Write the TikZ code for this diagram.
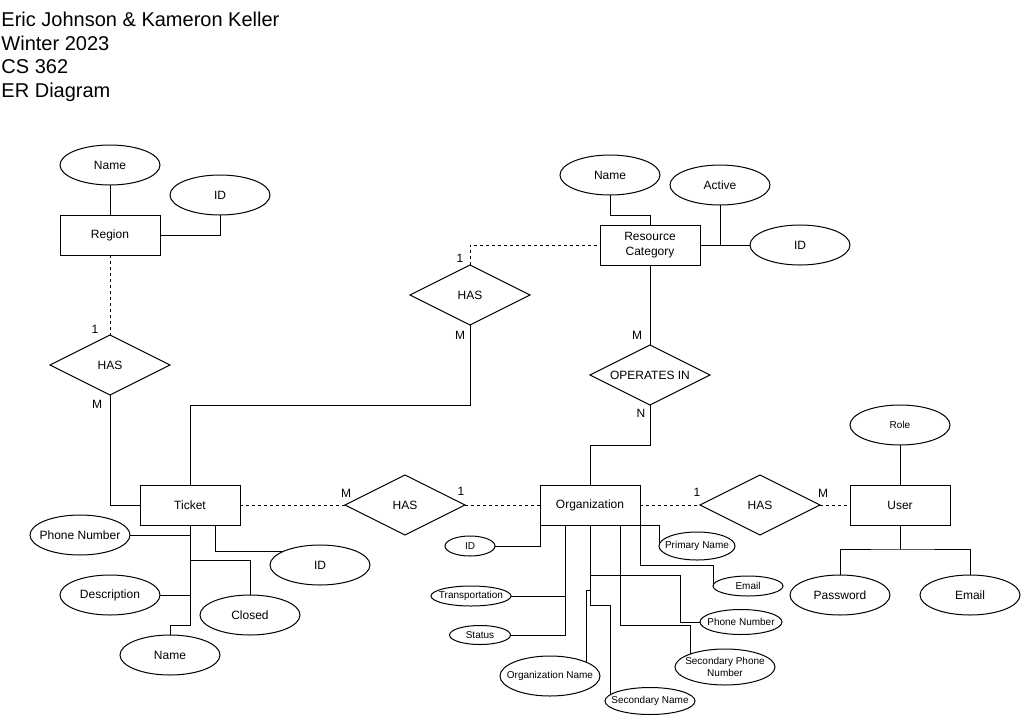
\documentclass[tikz,border=0pt]{standalone}
\usepackage{fontspec}
\setmainfont{Liberation Sans}
\usetikzlibrary{shapes.geometric,backgrounds}
\newcommand{\zb}[1]{\makebox[0pt][c]{#1}}
\begin{document}
\begin{tikzpicture}[x=1pt,y=-1pt,
  every node/.style={inner sep=0pt,outer sep=0pt},
  ent/.style={draw,rectangle,fill=white,line width=1pt,minimum width=100pt,minimum height=40pt,font=\fontsize{12}{14.5}\selectfont,align=center},
  attr/.style={draw,ellipse,fill=white,line width=1pt,minimum width=100pt,minimum height=40pt,font=\fontsize{12}{14}\selectfont,align=center},
  sattr/.style={attr,font=\fontsize{10}{11.5}\selectfont},
  rel/.style={draw,diamond,fill=white,line width=1pt,aspect=2,minimum width=120pt,minimum height=60pt,font=\fontsize{12}{14}\selectfont},
  card/.style={font=\fontsize{12}{14}\selectfont},
  ttl/.style={anchor=base west,font=\fontsize{20}{23.5}\selectfont},
  conn/.style={line width=1pt},
  dconn/.style={line width=1pt,dash pattern=on 3pt off 3pt}
]
\useasboundingbox (0,0) rectangle (1021,716);

% title
\node[ttl] (t1) at (1.5,26.7) {Eric Johnson \& Kameron Keller};
\node[ttl] (t2) at (1.5,50.2) {Winter 2023};
\node[ttl] (t3) at (1.5,73.7) {CS 362};
\node[ttl] (t4) at (1.5,97.2) {ER Diagram};

% entities
\node[ent] (region) at (110,235) {Region};
\node[ent] (rc) at (650,245) {Resource\\Category};
\node[ent] (ticket) at (190,505) {Ticket};
\node[ent] (org) at (590,505) {Organization};
\node[ent] (user) at (900,505) {User};

% relationships
\node[rel] (has1) at (110,365) {HAS};
\node[rel] (has2) at (470,295) {HAS};
\node[rel] (ops) at (650,375) {OPERATES IN};
\node[rel] (has3) at (405,505) {HAS};
\node[rel] (has4) at (760,505) {HAS};

% region attributes
\node[attr] (rname) at (110,165) {\zb{Name}};
\node[attr] (rid) at (220,195) {\zb{ID}};

% resource category attributes
\node[attr] (rcname) at (610,175) {\zb{Name}};
\node[attr] (active) at (720,185) {\zb{Active}};
\node[attr] (rcid) at (800,245) {\zb{ID}};

% user attributes
\node[sattr] (role) at (900,425) {\zb{Role}};
\node[attr] (pw) at (840,595) {\zb{Password}};
\node[attr] (uemail) at (970,595) {\zb{Email}};

% ticket attributes
\node[attr] (tpn) at (80,535) {\zb{Phone Number}};
\node[attr] (tdesc) at (110,595) {\zb{Description}};
\node[attr] (tname) at (170,655) {\zb{Name}};
\node[attr] (tclosed) at (250,615) {\zb{Closed}};
\node[attr] (tid) at (320,565) {\zb{ID}};

% organization attributes
\node[sattr,minimum width=50pt,minimum height=20pt] (oid) at (470,546) {\zb{ID}};
\node[sattr,minimum width=76pt,minimum height=28pt] (opn) at (697,546) {\zb{Primary Name}};
\node[sattr,minimum width=70pt,minimum height=20pt] (oemail) at (748,586) {\zb{Email}};
\node[sattr,minimum width=82pt,minimum height=25pt] (ophone) at (741,622) {\zb{Phone Number}};
\node[sattr,minimum width=100pt,minimum height=36pt] (osphone) at (725,667) {\zb{Secondary Phone}\\\zb{Number}};
\node[sattr,minimum width=100pt,minimum height=40pt] (oname) at (550,676) {\zb{Organization Name}};
\node[sattr,minimum width=90pt,minimum height=27pt] (osname) at (650,701) {\zb{Secondary Name}};
\node[sattr,minimum width=80pt,minimum height=20pt] (otrans) at (471,596) {\zb{Transportation}};
\node[sattr,minimum width=61pt,minimum height=19pt] (ostatus) at (480,635) {\zb{Status}};

% cardinalities
\node[card] (c1) at (95,329) {1};
\node[card] (c2) at (97,404) {M};
\node[card] (c3) at (460,258) {1};
\node[card] (c4) at (460,335) {M};
\node[card] (c5) at (637,335) {M};
\node[card] (c6) at (641,413) {N};
\node[card] (c7) at (346,493) {M};
\node[card] (c8) at (461,491) {1};
\node[card] (c9) at (697,492) {1};
\node[card] (c10) at (823,493) {M};

\begin{scope}[on background layer]
\fill[white] (0,0) rectangle (1021,716);
% region
\draw[conn] (rname) -- (region);
\draw[conn] (region.east) -| (rid.south);
\draw[dconn] (region.south) -- (has1.north);
\draw[conn] (has1.south) |- (ticket.west);
% ticket - resource category
\draw[conn] (ticket.north) -- ++(0,-80) -| (has2.south);
\draw[dconn] (has2.north) |- (rc.west);
% resource category
\draw[conn] (rcname.south) -- ++(0,20) -| (rc.north);
\draw[conn] (rc.east) -- (rcid.west);
\draw[conn] (active.south) -- (active.south |- rc.east);
\draw[conn] (rc.south) -- (ops.north);
\draw[conn] (ops.south) -- ++(0,40) -| (org.north);
% relations
\draw[dconn] (ticket.east) -- (has3.west);
\draw[dconn] (has3.east) -- (org.west);
\draw[dconn] (org.east) -- (has4.west);
\draw[dconn] (has4.east) -- (user.west);
% user
\draw[conn] (role) -- (user);
\draw[conn] (user.south) -- ++(0,24) coordinate (ub);
\draw[conn] (pw.north) |- (ub) -| (uemail.north);
% ticket attributes
\draw[conn] (ticket.south) -- ++(0,100) -| (tname.north);
\draw[conn] (tpn.east) -- (tpn.east -| ticket.south);
\draw[conn] (tdesc.east) -- (tdesc.east -| ticket.south);
\draw[conn] (ticket.south) ++(0,35) -| (tclosed.north);
\draw[conn] ([xshift=25pt]ticket.south) |- ([yshift=14pt]tid.center);
% organization attributes
\draw[conn] (oid.east) -| (org.south west);
\draw[conn] (org.south east) -| (opn.west);
\draw[conn] (org.south east) -- ++(0,40) -| (oemail.west);
\draw[conn] (org.south) -- ++(0,80);
\draw[conn] (org.south) ++(0,50) -- ++(90,0) |- (ophone.west);
\draw[conn] (org.south) ++(0,65) -- ++(-4,0) |- (oname.center);
\draw[conn] (org.south) ++(0,80) -- ++(20,0) |- (osname.center);
\draw[conn] ([xshift=-20pt]org.south east) -- ++(0,100) -- ++(70,0) |- (osphone.center);
\coordinate (ov) at ([xshift=25pt]org.south west);
\draw[conn] (ov) |- (ostatus.east);
\draw[conn] (otrans.east) -- (otrans.east -| ov);
\end{scope}
\end{tikzpicture}
\end{document}
